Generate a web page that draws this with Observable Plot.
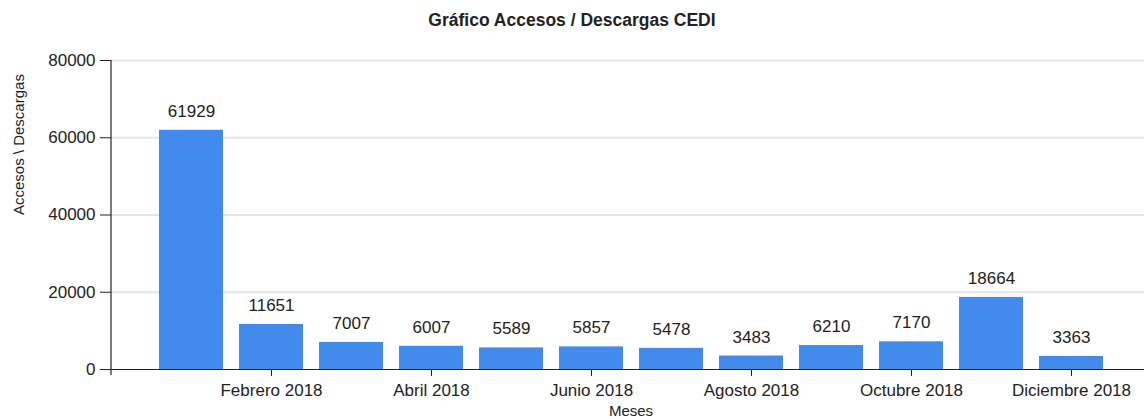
<!DOCTYPE html>
<html><head><meta charset="utf-8">
<script src="https://cdn.jsdelivr.net/npm/d3@7"></script>
<script src="https://cdn.jsdelivr.net/npm/@observablehq/plot@0.6"></script>
<style>
body{margin:0;background:#fff;overflow:hidden;font-family:"Liberation Sans",Arial,sans-serif;}
#title{height:40px;line-height:40px;text-align:center;font-weight:bold;font-size:17.5px;color:#222;}
#chart svg{display:block;}
</style></head><body>
<div id="title"></div>
<div id="chart"></div>
<script>
const title = "Gráfico Accesos / Descargas CEDI";
const months = ["Enero 2018","Febrero 2018","Marzo 2018","Abril 2018","Mayo 2018","Junio 2018","Julio 2018","Agosto 2018","Septiembre 2018","Octubre 2018","Noviembre 2018","Diciembre 2018"];
const values = [61929, 11651, 7007, 6007, 5589, 5857, 5478, 3483, 6210, 7170, 18664, 3363];
const xTicks = ["Febrero 2018","Abril 2018","Junio 2018","Agosto 2018","Octubre 2018","Diciembre 2018"];
const yTicks = [0, 20000, 40000, 60000, 80000];
const xLabel = "Meses";
const yLabel = "Accesos \\ Descargas";

const data = months.map((m, i) => ({month: m, value: values[i]}));
document.getElementById("title").textContent = title;

function yAxisLine(index, scales, values, dimensions) {
  const {marginLeft, marginTop, height, marginBottom} = dimensions;
  return d3.create("svg:line")
    .attr("x1", marginLeft).attr("x2", marginLeft)
    .attr("y1", marginTop).attr("y2", height - marginBottom + 6)
    .attr("stroke", "#222").attr("stroke-width", 1.2)
    .node();
}

const chart = Plot.plot({
  width: 1144, height: 379,
  marginLeft: 111, marginRight: 0, marginTop: 20, marginBottom: 50,
  style: {fontFamily: '"Liberation Sans", Arial, sans-serif', fontSize: "17px", color: "#222", background: "white", overflow: "visible"},
  x: {domain: months, range: [111, 1151.5], paddingInner: 0.2, paddingOuter: 0.6},
  y: {domain: [0, 80000]},
  marks: [
    Plot.ruleY(yTicks.slice(1), {stroke: "#e6e6e6", strokeWidth: 2}),
    Plot.barY(data, {x: "month", y: "value", fill: "#428bed"}),
    Plot.ruleY([0], {stroke: "#222", strokeWidth: 1.2}),
    yAxisLine,
    Plot.axisY({ticks: yTicks, tickFormat: d => String(d), tickSize: 11, tickPadding: 5, label: null, fontSize: 17}),
    Plot.axisX({ticks: xTicks, tickSize: 7, tickPadding: 7, label: null, fontSize: 17}),
    Plot.text(data, {x: "month", y: "value", text: d => String(d.value), dy: -19, fontSize: 17, fill: "#222"}),
    Plot.text([xLabel], {text: d => d, frameAnchor: "bottom", dy: 46.5, dx: 3, lineAnchor: "bottom", fontSize: 15, fill: "#222"}),
    Plot.text([yLabel], {text: d => d, frameAnchor: "left", dx: -92.5, rotate: -90, fontSize: 15, fill: "#222"})
  ]
});
document.getElementById("chart").appendChild(chart);
</script>
</body></html>
